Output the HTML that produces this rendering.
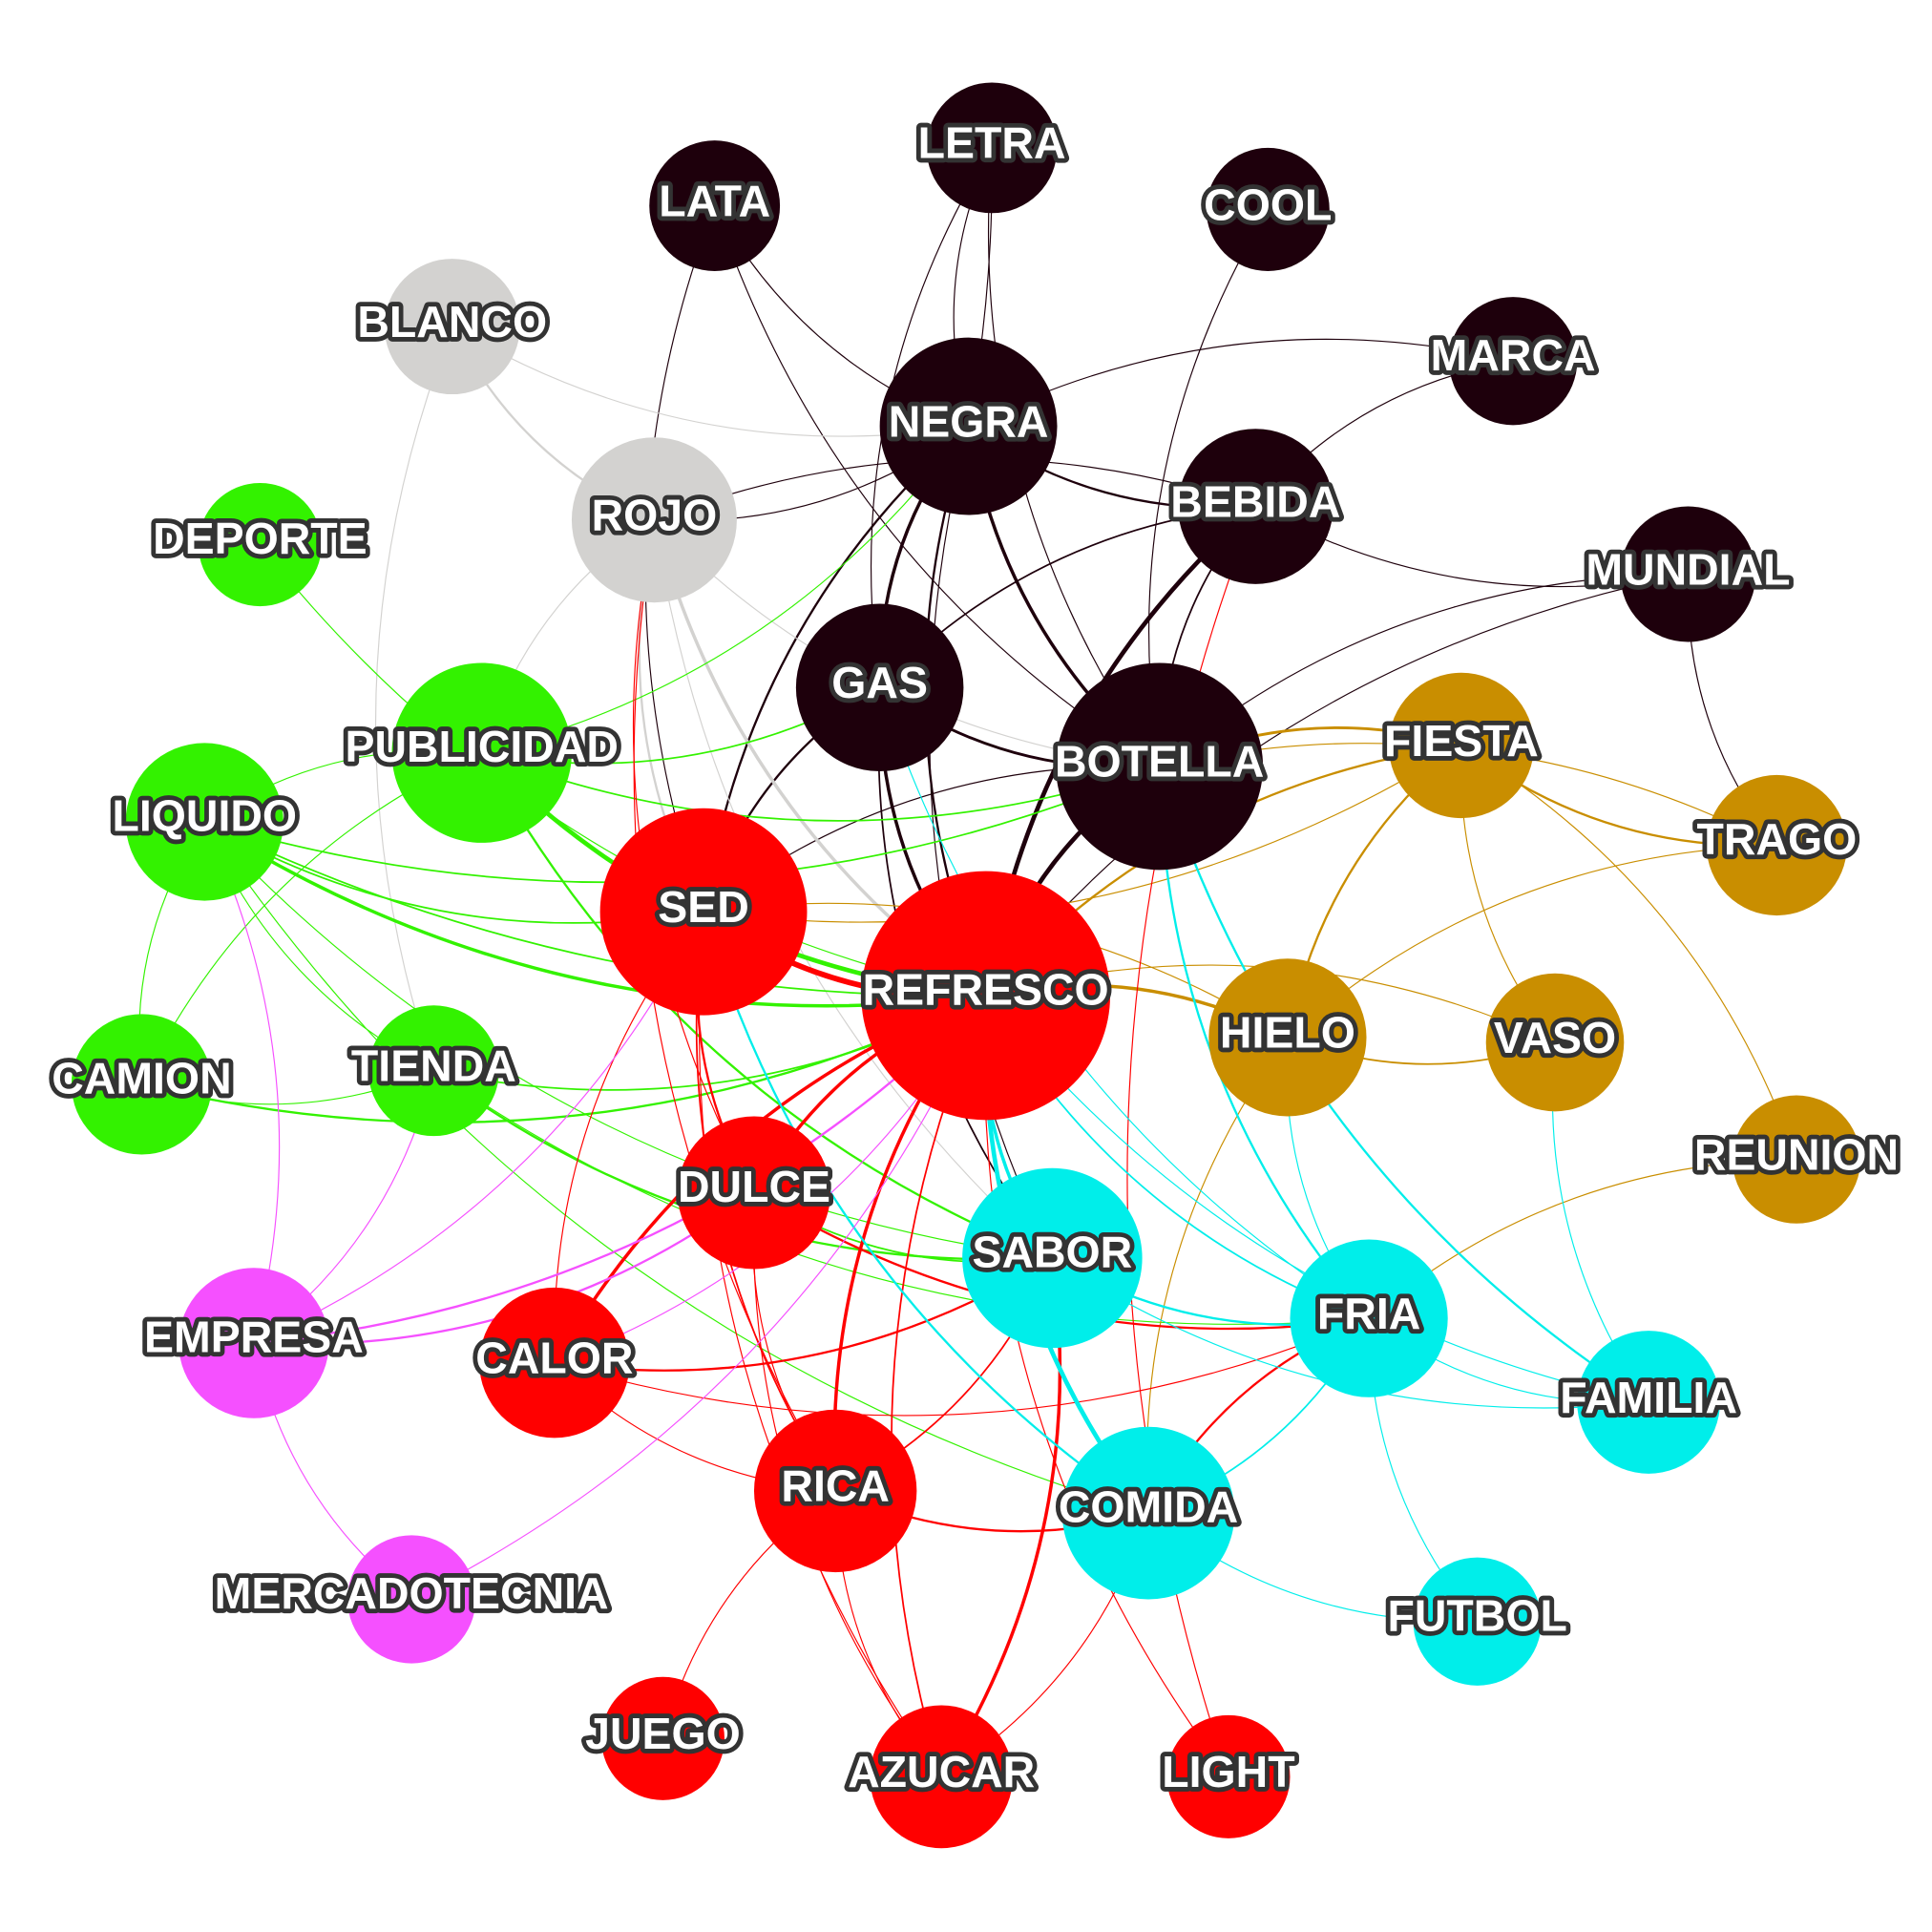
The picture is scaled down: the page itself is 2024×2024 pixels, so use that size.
<!DOCTYPE html>
<html><head><meta charset="utf-8"><style>
html,body{margin:0;padding:0;background:#fff}
svg{display:block}
text{font-family:"Liberation Sans",sans-serif;font-weight:bold;font-size:36px;fill:#fff;stroke:#333;stroke-width:7.5px;paint-order:stroke;stroke-linejoin:round;text-anchor:middle;dominant-baseline:central}
</style></head><body>
<svg id="s" width="2024" height="2024" viewBox="0 0 1568 1568" xmlns="http://www.w3.org/2000/svg">
<g id="edges" fill="none"></g>
<g id="nodes"></g>
<g id="labels">
<text x="805" y="116">LETRA</text>
<text x="580" y="163">LATA</text>
<text x="1029" y="166">COOL</text>
<text x="367" y="261">BLANCO</text>
<text x="1228" y="288">MARCA</text>
<text x="786" y="342">NEGRA</text>
<text x="531" y="418">ROJO</text>
<text x="1019" y="407">BEBIDA</text>
<text x="211" y="437">DEPORTE</text>
<text x="1370" y="462">MUNDIAL</text>
<text x="714" y="554">GAS</text>
<text x="941" y="618">BOTELLA</text>
<text x="1186" y="601">FIESTA</text>
<text x="391" y="606">PUBLICIDAD</text>
<text x="166" y="662">LIQUIDO</text>
<text x="1442" y="681">TRAGO</text>
<text x="571" y="736">SED</text>
<text x="800" y="803">REFRESCO</text>
<text x="1045" y="838">HIELO</text>
<text x="1262" y="842">VASO</text>
<text x="115" y="875">CAMION</text>
<text x="352" y="865">TIENDA</text>
<text x="1458" y="937">REUNION</text>
<text x="612" y="963">DULCE</text>
<text x="854" y="1016">SABOR</text>
<text x="1111" y="1066">FRIA</text>
<text x="206" y="1085">EMPRESA</text>
<text x="450" y="1102">CALOR</text>
<text x="1338" y="1134">FAMILIA</text>
<text x="678" y="1206">RICA</text>
<text x="932" y="1223">COMIDA</text>
<text x="334" y="1293">MERCADOTECNIA</text>
<text x="1199" y="1311">FUTBOL</text>
<text x="538" y="1407">JUEGO</text>
<text x="764" y="1438">AZUCAR</text>
<text x="997" y="1438">LIGHT</text>
</g>
</svg>
<script>
var K='#1e000c',G='#d3d2d0',GR='#33f200',Y='#c98e00',R='#ff0000',C='#00eeea',M='#f550ff';
var N={LETRA:[805,120,53,K],LATA:[580,167,53,K],COOL:[1029,170,50,K],BLANCO:[367,265,55,G],MARCA:[1228,293,52,K],NEGRA:[786,346,72,K],ROJO:[531,422,67,G],BEBIDA:[1019,411,63,K],DEPORTE:[211,442,50,GR],MUNDIAL:[1370,466,55,K],GAS:[714,558,68,K],BOTELLA:[941,622,84,K],FIESTA:[1186,605,59,Y],PUBLICIDAD:[391,611,73,GR],LIQUIDO:[166,667,64,GR],TRAGO:[1442,686,57,Y],SED:[571,740,84,R],REFRESCO:[800,808,101,R],HIELO:[1045,842,64,Y],VASO:[1262,846,56,Y],CAMION:[115,880,57,GR],TIENDA:[352,869,53,GR],REUNION:[1458,941,52,Y],DULCE:[612,968,62,R],SABOR:[854,1021,73,C],FRIA:[1111,1070,64,C],EMPRESA:[206,1090,61,M],CALOR:[450,1106,61,R],FAMILIA:[1338,1138,58,C],RICA:[678,1210,66,R],COMIDA:[932,1228,70,C],MERCADOTECNIA:[334,1298,52,M],FUTBOL:[1199,1316,52,C],JUEGO:[538,1411,50,R],AZUCAR:[764,1442,58,R],LIGHT:[997,1442,50,R]};
var E=[
['LETRA','NEGRA',K,1],['LETRA','NEGRA',K,1,-.05],['LETRA','GAS',K,1],['LETRA','BOTELLA',K,1],['LATA','NEGRA',K,1],['LATA','SED',K,1],['LATA','BOTELLA',K,1],['COOL','BOTELLA',K,1],['MARCA','NEGRA',K,1],['MARCA','BEBIDA',K,1],['NEGRA','BEBIDA',K,2],['NEGRA','GAS',K,3],['NEGRA','BOTELLA',K,3],['NEGRA','SED',K,2],['NEGRA','REFRESCO',K,2],['NEGRA','SABOR',K,1],['BEBIDA','MUNDIAL',K,1],['BEBIDA','REFRESCO',K,4],['BEBIDA','GAS',K,1.5],['BEBIDA','BOTELLA',K,1.5],['BEBIDA','ROJO',K,1],['MUNDIAL','BOTELLA',K,1],['MUNDIAL','TRAGO',K,1],['MUNDIAL','REFRESCO',K,1],['GAS','BOTELLA',K,2.5],['GAS','SED',K,2],['GAS','REFRESCO',K,3],['GAS','SABOR',K,1.5],['BOTELLA','REFRESCO',K,4],['BOTELLA','SED',K,1],['ROJO','NEGRA',K,1],
['BLANCO','ROJO',G,2],['BLANCO','NEGRA',G,1],['BLANCO','TIENDA',G,1],['ROJO','SED',G,2],['ROJO','REFRESCO',G,3],['ROJO','SABOR',G,1],['ROJO','PUBLICIDAD',G,1],['ROJO','BOTELLA',G,1],
['DEPORTE','REFRESCO',GR,1],['PUBLICIDAD','REFRESCO',GR,4],['PUBLICIDAD','NEGRA',GR,1],['PUBLICIDAD','GAS',GR,1.5],['PUBLICIDAD','BOTELLA',GR,1.5],['PUBLICIDAD','SABOR',GR,2],['PUBLICIDAD','CAMION',GR,1],['PUBLICIDAD','LIQUIDO',GR,1],['LIQUIDO','REFRESCO',GR,3],['LIQUIDO','REFRESCO',GR,1.5,.12],['LIQUIDO','SED',GR,1.5],['LIQUIDO','BOTELLA',GR,1.5],['LIQUIDO','CAMION',GR,1],['LIQUIDO','TIENDA',GR,1],['LIQUIDO','SABOR',GR,1],['LIQUIDO','COMIDA',GR,1],['CAMION','REFRESCO',GR,2],['CAMION','TIENDA',GR,1],['TIENDA','SABOR',GR,2],['TIENDA','REFRESCO',GR,1.5],['TIENDA','FRIA',GR,1],['DULCE','SABOR',GR,1.5],
['FIESTA','BOTELLA',Y,2.5],['FIESTA','TRAGO',Y,2],['FIESTA','HIELO',Y,2],['FIESTA','VASO',Y,1],['FIESTA','REFRESCO',Y,2],['TRAGO','BOTELLA',Y,1],['TRAGO','HIELO',Y,1],['HIELO','REFRESCO',Y,3],['HIELO','VASO',Y,1.5],['HIELO','SED',Y,1],['HIELO','COMIDA',Y,1],['REUNION','FIESTA',Y,1],['REUNION','FRIA',Y,1],['VASO','REFRESCO',Y,1],['SED','FIESTA',Y,1],
['SED','REFRESCO',R,5],['SED','DULCE',R,2],['SED','CALOR',R,1],['SED','RICA',R,1.5],['SED','AZUCAR',R,1],['REFRESCO','DULCE',R,3],['REFRESCO','CALOR',R,3],['REFRESCO','RICA',R,3],['REFRESCO','AZUCAR',R,1.5],['REFRESCO','LIGHT',R,1],['DULCE','RICA',R,1],['DULCE','FRIA',R,2],['CALOR','RICA',R,1],['CALOR','SABOR',R,2],['CALOR','FRIA',R,1],['RICA','COMIDA',R,2],['RICA','JUEGO',R,1],['RICA','AZUCAR',R,1],['RICA','SABOR',R,1.5],['AZUCAR','SABOR',R,3],['AZUCAR','COMIDA',R,1],['BEBIDA','LIGHT',R,1],['FRIA','COMIDA',R,2],['ROJO','RICA',R,1],['ROJO','DULCE',R,1],['DULCE','AZUCAR',R,1],
['REFRESCO','SABOR',C,3],['REFRESCO','FRIA',C,1.5],['REFRESCO','COMIDA',C,4],['REFRESCO','FAMILIA',C,1],['BOTELLA','FRIA',C,2],['BOTELLA','FAMILIA',C,2],['SABOR','FRIA',C,2],['SABOR','FAMILIA',C,1],['FRIA','FAMILIA',C,1],['FRIA','FUTBOL',C,1],['COMIDA','FUTBOL',C,1],['VASO','FAMILIA',C,1],['HIELO','FRIA',C,1],['COMIDA','FRIA',C,1.5],['GAS','FRIA',C,1],['SED','COMIDA',C,2],
['EMPRESA','REFRESCO',M,2],['EMPRESA','DULCE',M,2],['EMPRESA','SED',M,1],['EMPRESA','MERCADOTECNIA',M,1],['EMPRESA','LIQUIDO',M,1],['EMPRESA','TIENDA',M,1],['MERCADOTECNIA','REFRESCO',M,1],['CALOR','REFRESCO',M,1]
];
var ns='http://www.w3.org/2000/svg',eg=document.getElementById('edges'),ng=document.getElementById('nodes');
E.forEach(function(e){var a=N[e[0]],b=N[e[1]],k=e[4]||.18;
var dx=b[0]-a[0],dy=b[1]-a[1],mx=(a[0]+b[0])/2-dy*k,my=(a[1]+b[1])/2+dx*k;
var p=document.createElementNS(ns,'path');p.setAttribute('d','M'+a[0]+' '+a[1]+'Q'+mx+' '+my+' '+b[0]+' '+b[1]);
p.setAttribute('stroke',e[2]);p.setAttribute('stroke-width',e[3]*0.9);eg.appendChild(p);});
for(var n in N){var c=document.createElementNS(ns,'circle'),v=N[n];c.setAttribute('cx',v[0]);c.setAttribute('cy',v[1]);c.setAttribute('r',v[2]);c.setAttribute('fill',v[3]);ng.appendChild(c);}
</script>
</body></html>
